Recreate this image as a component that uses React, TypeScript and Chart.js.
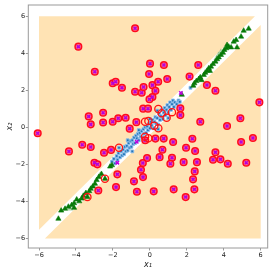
import React, { useEffect, useRef } from "react";
import { Chart, registerables } from "chart.js";
Chart.register(...registerables);

type P = [number, number];

const xTicks = [-6, -4, -2, 0, 2, 4, 6];
const yTicks = [-6, -4, -2, 0, 2, 4, 6];
const xRange: P = [-6.58, 6.38];
const yRange: P = [-6.52, 6.61];

// decision regions (outside the diagonal band)
const regionUpperLeft: P[] = [[-6, -5.53], [-6, 6], [5.69, 6]];
const regionLowerRight: P[] = [[-5.68, -6], [6, -6], [6, 5.53]];

// class A points lying in the outer region (circled)
const classAOuter: P[] = [
  [-0.8, 5.35], [-3.87, 4.36], [-2.98, 3.0], [-2.01, 2.38], [-1.85, 2.46], [-1.51, 2.14], [-0.8, 1.92], [-0.44, 1.87],
  [-3.31, 0.59], [-3.2, 0.16], [-2.53, 0.79], [-2.53, 0.26], [-2.01, 0.3], [-1.71, 0.49], [-1.31, 0.52], [-1.09, -0.07],
  [-0.73, 0.28], [-6.07, -0.32],
  [0.01, 3.44], [0.76, 3.37], [2.62, 3.37], [-0.04, 2.88], [0.94, 2.61], [2.15, 2.74], [-0.34, 2.18], [0.14, 2.28],
  [0.45, 2.46], [0.3, 1.97], [0.14, 1.64], [-0.02, 1.52], [3.09, 2.29], [3.55, 1.98], [-0.36, 1.01], [-0.1, 1.01],
  [1.65, 1.03], [1.65, 0.66], [2.73, 0.3], [4.9, 0.49], [4.18, 0.07], [5.93, 1.35], [5.58, -0.58],
  [-4.38, -1.3], [-3.66, -0.94], [-3.2, -1.06], [-2.48, -1.37], [-2.1, -1.22], [-3.0, -1.91], [-2.84, -2.0],
  [-1.76, -2.54], [-0.86, -2.92], [-0.7, -3.48], [-1.83, -3.23], [-2.79, -3.41],
  [-0.25, -0.7], [0.3, -0.61], [0.75, -0.61], [1.26, -0.79], [2.3, -0.62], [4.94, -0.79], [0.68, -1.21], [1.96, -1.1],
  [2.45, -1.28], [3.55, -1.35], [-0.15, -1.66], [0.53, -1.61], [1.2, -1.64], [-0.38, -1.93], [1.11, -1.97],
  [1.83, -1.88], [2.55, -1.88], [3.42, -1.75], [3.82, -1.73], [4.22, -1.97], [5.22, -1.91], [-0.48, -2.29],
  [2.43, -2.38], [-0.37, -2.69], [2.34, -2.81], [0.21, -3.46], [1.29, -3.35], [2.41, -3.35], [1.94, -3.77],
];

// class A points inside the band (not circled)
const classAInner: P[] = [[-0.71, -0.78], [-1.76, -1.91], [1.68, 1.86]];

// class B (blue squares)
const classB: P[] = [
  [-2.05, -1.85], [-1.95, -1.7], [-1.9, -1.95], [-1.8, -1.55], [-1.75, -1.75], [-1.7, -1.4], [-1.67, -1.1],
  [-1.62, -1.62], [-1.55, -1.3], [-1.5, -1.52], [-1.45, -1.2], [-1.4, -1.45], [-1.35, -1.05], [-1.3, -1.3],
  [-1.25, -1.0], [-1.2, -1.25], [-1.15, -0.85], [-1.1, -1.1], [-1.05, -0.75], [-1.0, -1.05], [-0.95, -0.7],
  [-0.9, -0.9], [-0.85, -0.55], [-0.8, -0.85], [-0.75, -0.45], [-0.7, -0.6], [-0.65, -0.35], [-0.6, -0.7],
  [-0.55, -0.3], [-0.5, -0.5], [-0.45, -0.2], [-0.4, -0.55], [-0.35, -0.1], [-0.3, -0.35], [-0.25, 0.0],
  [-0.2, -0.3], [-0.15, 0.05], [-0.1, -0.15], [-0.05, 0.2], [0.0, -0.05], [0.05, 0.3], [0.1, 0.1], [0.15, 0.4],
  [0.2, -0.05], [0.25, 0.3], [0.3, 0.55], [0.35, 0.2], [0.4, 0.5], [0.45, 0.15], [0.5, 0.75], [0.55, 0.4],
  [0.6, 0.6], [0.65, 0.95], [0.7, 0.45], [0.75, 0.8], [0.8, 1.05], [0.85, 0.65], [0.9, 0.95], [0.95, 1.2],
  [1.0, 0.8], [1.05, 1.1], [1.1, 1.35], [1.15, 0.95], [1.2, 1.25], [1.25, 1.45], [1.3, 1.1], [1.35, 1.35],
  [1.45, 1.25], [1.55, 1.45], [1.62, 1.38], [2.2, 2.14],
  [-1.2, -0.7], [-0.6, -0.15], [0.0, 0.45], [0.4, 0.9], [-0.95, -1.3], [-0.25, -0.65], [0.45, -0.1], [1.0, 0.5],
];

// class C (green triangles)
const classC: P[] = [
  [1.73, 1.76], [2.41, 2.38], [2.52, 2.5], [2.65, 2.61], [2.73, 2.7], [2.92, 2.83], [3.0, 2.95], [3.1, 3.06],
  [3.19, 3.19], [3.31, 3.28], [3.42, 3.42], [3.55, 3.55], [3.64, 3.68], [3.73, 3.78], [3.85, 3.91], [3.96, 4.03],
  [4.03, 4.18], [4.14, 4.27], [4.27, 4.36], [4.4, 4.32], [4.18, 4.45], [4.54, 4.63], [4.67, 4.72], [4.72, 4.32],
  [4.94, 4.9], [5.08, 5.22], [5.35, 5.33], [2.35, 2.25], [2.8, 2.55], [3.25, 3.05],
  [-4.95, -4.94], [-4.8, -4.5], [-4.59, -4.4], [-4.41, -4.29], [-4.23, -4.2], [-4.1, -4.35], [-4.1, -4.1],
  [-3.96, -3.9], [-3.82, -4.0], [-3.69, -3.85], [-3.6, -3.7], [-3.46, -3.55], [-3.38, -3.77], [-3.28, -3.45],
  [-3.2, -3.32], [-3.09, -3.2], [-2.97, -3.05], [-2.88, -2.85], [-2.76, -2.68], [-2.62, -2.52], [-2.43, -2.78],
  [-2.15, -2.12], [-2.05, -2.05],
];

// faint class C markers
const classCFaint: P[] = [[3.72, 3.92], [3.6, 3.72], [3.85, 4.08], [-2.7, -2.58], [-3.05, -3.15], [-3.5, -3.6], [-4.3, -4.4]];

// extra circled points (hollow rings)
const circled: P[] = [
  [0.46, 0.99], [0.64, 0.76], [0.91, 0.52], [1.2, 0.82], [-0.08, 0.34], [-0.26, 0.3], [0.24, 0.09], [0.46, -0.05],
  [-0.26, -0.51], [-0.08, -0.59], [-1.67, -1.1], [-3.38, -3.77], [-2.43, -2.78],
];

const toXY = (a: P[]) => a.map(([x, y]) => ({ x, y }));
const fmt = (v: number) => (v < 0 ? "\u2212" + Math.abs(v) : String(v));

const REGION = "rgb(255,227,180)";
const SPINE = "#9a9a9a";
const FONT = "DejaVu Sans";

export default function App() {
  const ref = useRef<HTMLCanvasElement | null>(null);
  useEffect(() => {
    if (!ref.current) return;
    const regionPlugin = {
      id: "regions",
      beforeDatasetsDraw(chart: any) {
        const { ctx, scales } = chart;
        const sx = scales.x, sy = scales.y;
        ctx.save();
        ctx.fillStyle = REGION;
        for (const poly of [regionUpperLeft, regionLowerRight]) {
          ctx.beginPath();
          poly.forEach(([px, py], i) => {
            const X = sx.getPixelForValue(px), Y = sy.getPixelForValue(py);
            if (i === 0) ctx.moveTo(X, Y); else ctx.lineTo(X, Y);
          });
          ctx.closePath();
          ctx.fill();
        }
        ctx.restore();
      },
      afterDraw(chart: any) {
        const { ctx, chartArea: a } = chart;
        ctx.save();
        ctx.strokeStyle = SPINE;
        ctx.lineWidth = 1;
        ctx.strokeRect(a.left, a.top, a.right - a.left, a.bottom - a.top);
        ctx.restore();
      },
    };
    const chart = new Chart(ref.current, {
      type: "scatter",
      data: {
        datasets: [
          { label: "rings", data: toXY(circled), order: 0, pointStyle: "circle", pointRadius: 3.6, backgroundColor: "rgba(0,0,0,0)", borderColor: "#ff1414", borderWidth: 1.3 },
          { label: "A-x", data: toXY(classAOuter), order: 1, pointStyle: "crossRot", pointRadius: 2.1, borderColor: "#b400e0", borderWidth: 1.5 },
          { label: "A-o", data: toXY(classAOuter), order: 2, pointStyle: "circle", pointRadius: 3.3, backgroundColor: "#ff6688", borderColor: "#ff0a1e", borderWidth: 1.5 },
          { label: "A-in", data: toXY(classAInner), order: 3, pointStyle: "crossRot", pointRadius: 2.4, borderColor: "#c000e0", borderWidth: 1.5 },
          { label: "C", data: toXY(classC), order: 4, pointStyle: "triangle", pointRadius: 3, backgroundColor: "#087a08", borderColor: "#087a08", borderWidth: 0.6 },
          { label: "Cf", data: toXY(classCFaint), order: 5, pointStyle: "triangle", pointRadius: 3, backgroundColor: "rgba(60,150,60,0.35)", borderColor: "rgba(60,150,60,0.35)", borderWidth: 0.5 },
          { label: "B", data: toXY(classB), order: 6, pointStyle: "rect", pointRadius: 2, backgroundColor: "#2675b5", borderColor: "rgba(140,190,235,0.9)", borderWidth: 1 },
        ],
      },
      options: {
        animation: false,
        responsive: false,
        devicePixelRatio: 1,
        layout: { padding: { top: 5, right: 6.3, left: 0, bottom: 0 } },
        plugins: { legend: { display: false }, tooltip: { enabled: false } },
        elements: { point: { hoverRadius: 0 } },
        scales: {
          x: {
            type: "linear",
            min: xRange[0],
            max: xRange[1],
            afterBuildTicks: (s: any) => { s.ticks = xTicks.map((v) => ({ value: v })); },
            afterFit: (s: any) => { s.height = 26; },
            ticks: { callback: (v: any) => fmt(Number(v)), font: { family: FONT, size: 6.5 }, color: "#222", padding: 1, maxRotation: 0 },
            grid: { display: true, drawOnChartArea: false, drawTicks: true, tickLength: 2.5, color: SPINE },
            border: { display: false },
            title: { display: true, text: "x\u2081", font: { family: FONT, size: 8, style: "italic" }, color: "#222", padding: { top: 0, bottom: 4.7 } },
          },
          y: {
            type: "linear",
            min: yRange[0],
            max: yRange[1],
            afterBuildTicks: (s: any) => { s.ticks = yTicks.map((v) => ({ value: v })); },
            afterFit: (s: any) => { s.width = 28.3; },
            ticks: { callback: (v: any) => fmt(Number(v)), font: { family: FONT, size: 6.5 }, color: "#222", padding: 0.6 },
            grid: { display: true, drawOnChartArea: false, drawTicks: true, tickLength: 2.5, color: SPINE },
            border: { display: false },
            title: { display: true, text: "x\u2082", font: { family: FONT, size: 8, style: "italic" }, color: "#222", padding: { top: 4.7, bottom: 0 } },
          },
        },
      } as any,
      plugins: [regionPlugin],
    });
    return () => chart.destroy();
  }, []);
  return (
    <div style={{ position: "fixed", left: 0, top: 0, width: 274, height: 274, background: "#fff" }}>
      <canvas ref={ref} width={274} height={274} style={{ width: 274, height: 274, display: "block" }} />
    </div>
  );
}
